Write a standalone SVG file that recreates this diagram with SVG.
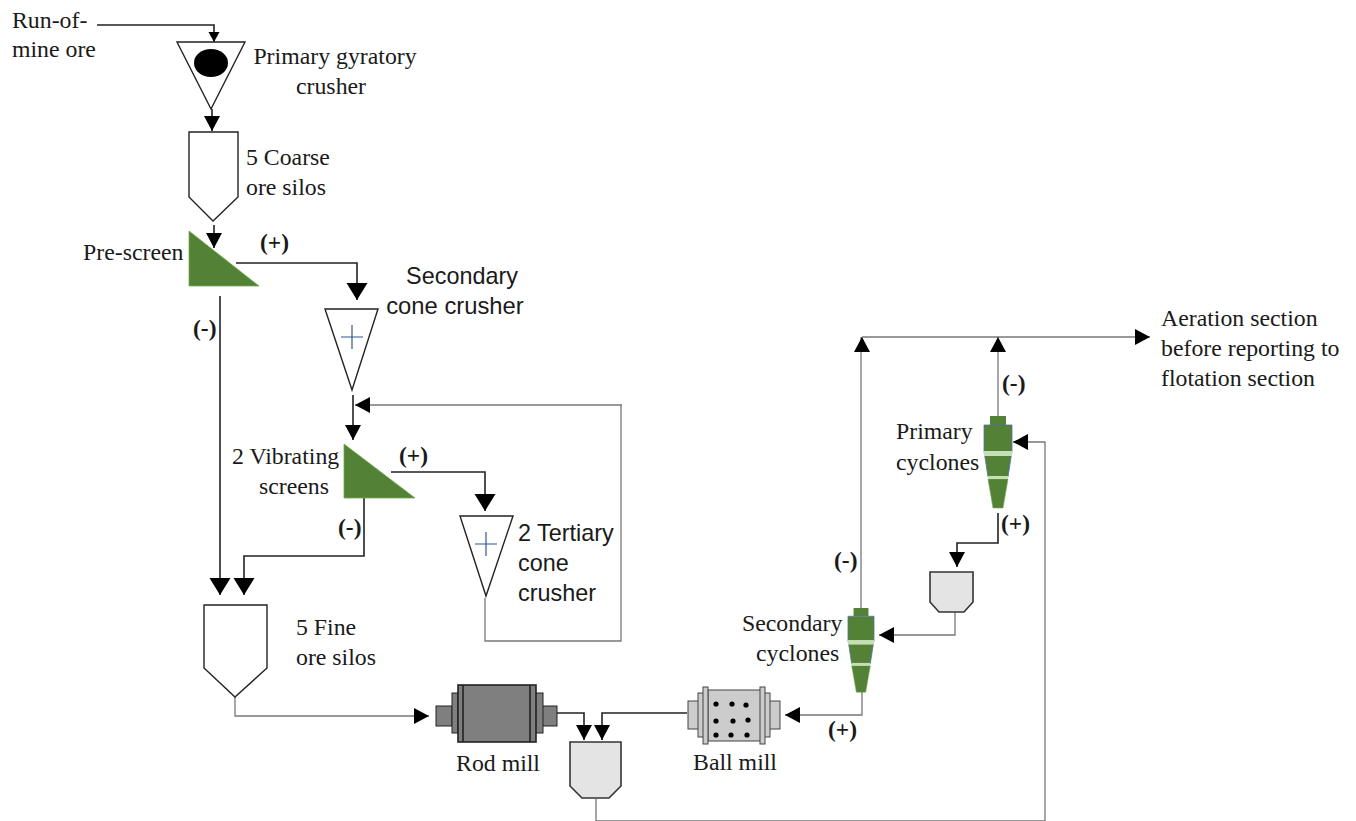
<svg xmlns="http://www.w3.org/2000/svg" width="1356" height="821" viewBox="0 0 1356 821">
<style>
.t{font-family:"Liberation Serif","Times New Roman",serif;font-size:23.8px;fill:#1a1a1a}
.a{font-family:"Liberation Sans",Arial,sans-serif;font-size:23.4px;fill:#1a1a1a}
.b{font-weight:bold;font-size:23.5px}
.m{text-anchor:middle}
.k{fill:none;stroke:#222;stroke-width:1.6}
.g{fill:none;stroke:#777;stroke-width:1.3}
.o{fill:#fff;stroke:#222;stroke-width:1.4}
.s{fill:#e4e4e4;stroke:#333;stroke-width:1.6}
.sc{fill:#538135;stroke:#70ad47;stroke-width:.8}
.pl{stroke:#2f5597;stroke-width:1.2;fill:none}
</style>
<defs>
<marker id="ab" markerUnits="userSpaceOnUse" markerWidth="18" markerHeight="22" refX="17" refY="10.5" orient="auto"><path d="M0 0L17 10.5L0 21Z" fill="#000"/></marker>
<marker id="am" markerUnits="userSpaceOnUse" markerWidth="16" markerHeight="18" refX="15" refY="8" orient="auto"><path d="M0 0L15 8L0 16Z" fill="#000"/></marker>
<marker id="as" markerUnits="userSpaceOnUse" markerWidth="11" markerHeight="12" refX="10" refY="5.5" orient="auto"><path d="M0 0L10 5.5L0 11Z" fill="#000"/></marker>
<g id="cyclone">
<rect x="-8" y="0" width="16" height="9" fill="#538135"/>
<path d="M-14 9H14V35L10 61H-10L-14 35Z" fill="#538135" stroke="#4f74a8" stroke-width=".8"/>
<rect x="-14" y="35" width="28" height="5" fill="#c5e0b4"/>
<path d="M-10 63H10L5 92H-5Z" fill="#538135" stroke="#70ad47" stroke-width=".6"/>
<rect x="-10" y="60" width="20" height="3" fill="#c5e0b4"/>
</g>
</defs>
<g id="connectors">
<path class="k" d="M97 25H214V42" marker-end="url(#as)"/>
<path class="k" d="M212 109V131" marker-end="url(#am)"/>
<path class="k" d="M214 225V248" marker-end="url(#am)"/>
<path class="k" d="M236 263H357V300" marker-end="url(#ab)"/>
<path class="k" d="M220 296V595" marker-end="url(#ab)"/>
<path class="k" d="M353 395V440" marker-end="url(#am)"/>
<path class="g" d="M622 405H355" marker-end="url(#am)"/>
<path class="g" d="M485 598V641H621V405"/>
<path class="k" d="M391 472H485V511" marker-end="url(#ab)"/>
<path class="k" d="M364 497V556H244V595" marker-end="url(#ab)"/>
<path class="g" d="M235 697V716H429" marker-end="url(#am)"/>
<path class="k" d="M557 713H584V740" marker-end="url(#am)"/>
<path class="k" d="M687 713H602V740" marker-end="url(#am)"/>
<path class="g" d="M862 692V715H785" marker-end="url(#am)"/>
<path class="g" d="M596 799V821H1045V442H1013" marker-end="url(#am)"/>
<path class="k" d="M998 513V543H957V567" marker-end="url(#am)"/>
<path class="g" d="M955 612V635H879" marker-end="url(#am)"/>
<path class="g" d="M861 608V337"/>
<path class="g" d="M862 352V337" marker-end="url(#am)"/>
<path class="g" d="M862 337H1150" stroke="#444" marker-end="url(#am)"/>
<path class="g" d="M998 416V337" marker-end="url(#am)"/>
</g>
<g id="primary-crusher">
<path class="o" d="M177 42H245L211 109Z"/>
<ellipse cx="211" cy="63" rx="17" ry="14" fill="#000"/>
<text class="t m" x="335" y="64">Primary gyratory</text>
<text class="t m" x="331" y="94">crusher</text>
</g>
<g id="run-of-mine"><text class="t" x="12" y="28">Run-of-</text><text class="t" x="12" y="57">mine ore</text></g>
<g id="coarse-silos">
<path class="o" d="M189 132H238V197L213 221L189 197Z"/>
<text class="t" x="246" y="165">5 Coarse</text>
<text class="t" x="246" y="195">ore silos</text>
</g>
<g id="pre-screen">
<path class="sc" d="M189 231V286H259Z"/>
<text class="t" x="83" y="260">Pre-screen</text>
</g>
<g id="secondary-crusher">
<path class="o" d="M325 309H378L352 390Z"/>
<path class="pl" d="M341 337H363M352 325V349"/>
<text class="a m" x="462" y="284">Secondary</text>
<text class="a m" x="455" y="314" style="font-size:23.8px">cone crusher</text>
</g>
<g id="vibrating-screens">
<path class="sc" d="M344 444V498H415Z"/>
<text class="t" x="232" y="464">2 Vibrating</text>
<text class="t" x="259" y="494">screens</text>
</g>
<g id="tertiary-crusher">
<path class="o" d="M460 516H513L486 596Z"/>
<path class="pl" d="M475 544H497M486 532V556"/>
<text class="a" x="518" y="541">2 Tertiary</text>
<text class="a" x="518" y="571">cone</text>
<text class="a" x="518" y="601">crusher</text>
</g>
<g id="fine-silos">
<path class="o" d="M204 605H267V668L235 697L204 668Z"/>
<text class="t" x="296" y="635">5 Fine</text>
<text class="t" x="296" y="665">ore silos</text>
</g>
<g id="rod-mill">
<rect x="436" y="706" width="16" height="20" fill="#7f7f7f" stroke="#222"/>
<rect x="541" y="706" width="16" height="20" fill="#7f7f7f" stroke="#222"/>
<rect x="452" y="693" width="6" height="40" fill="#7f7f7f" stroke="#222"/>
<rect x="535" y="693" width="8" height="40" fill="#7f7f7f" stroke="#222"/>
<rect x="458" y="685" width="78" height="57" fill="#7f7f7f" stroke="#222" stroke-width="1.6"/>
<path d="M463 685V742M530 685V742" stroke="#222" stroke-width="1.6"/>
<text class="t m" x="498" y="771">Rod mill</text>
</g>
<g id="ball-mill">
<rect x="688" y="701" width="11" height="28" fill="#ccc" stroke="#444"/>
<rect x="769" y="701" width="11" height="28" fill="#ccc" stroke="#444"/>
<rect x="698" y="693" width="6" height="44" fill="#ccc" stroke="#444"/>
<rect x="764" y="693" width="6" height="44" fill="#ccc" stroke="#444"/>
<rect x="708" y="690" width="55" height="51" fill="#ccc" stroke="#444"/>
<rect x="703" y="687" width="5" height="57" fill="#ccc" stroke="#444"/>
<rect x="760" y="687" width="5" height="57" fill="#ccc" stroke="#444"/>
<g fill="#000"><circle cx="716" cy="704" r="2.6"/><circle cx="732" cy="704" r="2.6"/><circle cx="746" cy="705" r="2.6"/><circle cx="716" cy="721" r="2.6"/><circle cx="733" cy="721" r="2.6"/><circle cx="748" cy="720" r="2.6"/><circle cx="716" cy="735" r="2.6"/><circle cx="731" cy="735" r="2.6"/><circle cx="747" cy="735" r="2.6"/></g>
<text class="t m" x="735" y="770">Ball mill</text>
</g>
<g id="sump-mill"><path class="s" d="M570 742H621V786L609 798H582L570 786Z"/></g>
<g id="sump-cyclone"><path class="s" d="M930 572H973V602L964 612H939L930 602Z"/></g>
<g id="secondary-cyclones">
<use href="#cyclone" transform="translate(861,608) scale(.93,.915)"/>
<text class="t" x="742" y="631">Secondary</text>
<text class="t" x="756" y="661">cyclones</text>
</g>
<g id="primary-cyclones">
<use href="#cyclone" transform="translate(998,416)"/>
<text class="t" x="896" y="439">Primary</text>
<text class="t" x="896" y="470">cyclones</text>
</g>
<g id="aeration">
<text class="t" x="1161" y="326">Aeration section</text>
<text class="t" x="1161" y="356">before reporting to</text>
<text class="t" x="1161" y="386">flotation section</text>
</g>
<g id="labels">
<text class="t b" x="260" y="250">(+)</text>
<text class="t b" x="193" y="336">(-)</text>
<text class="t b" x="399" y="463">(+)</text>
<text class="t b" x="338" y="535">(-)</text>
<text class="t b" x="1001" y="531">(+)</text>
<text class="t b" x="1002" y="391">(-)</text>
<text class="t b" x="834" y="568">(-)</text>
<text class="t b" x="828" y="737">(+)</text>
</g>
</svg>
